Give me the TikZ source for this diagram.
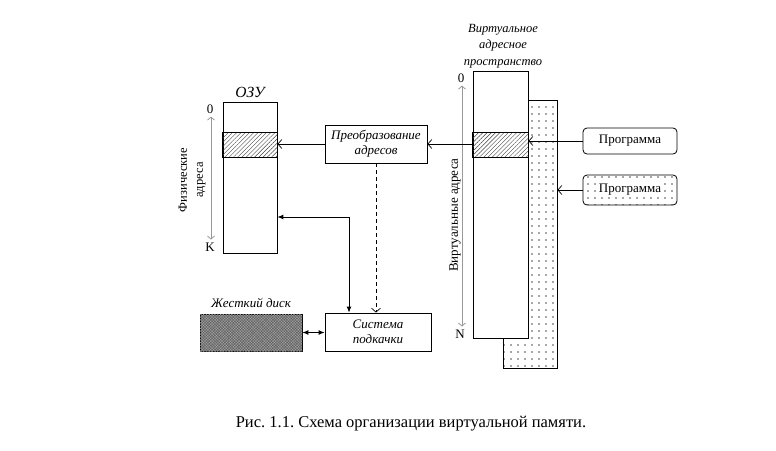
\documentclass[tikz,border=0pt]{standalone}
\usepackage{fontspec}
\setmainfont{Liberation Serif}
\usetikzlibrary{arrows.meta,patterns,patterns.meta,calc}
\frenchspacing
\begin{document}
\begin{tikzpicture}[x=1pt,y=-1pt,
  box/.style={draw, line width=0.8pt, inner sep=0pt, align=center, font=\itshape\fontsize{13}{15}\selectfont},
  openarr/.style={-{Straight Barb[length=4pt,width=9pt]}, line width=0.7pt},
  fillarr/.style={{Latex[length=6pt,width=5pt]}-{Latex[length=6pt,width=5pt]}, line width=0.9pt},
  axis/.style={{Straight Barb[length=3pt,width=7pt]}-{Straight Barb[length=3pt,width=7pt]}, draw=black!40, line width=0.8pt},
  lbl/.style={inner sep=0pt, font=\fontsize{13}{14}\selectfont},
  hatch/.style={draw, line width=0.8pt, pattern={Lines[angle=45,distance=3pt,line width=0.45pt]}, pattern color=black!75},
  dotfill/.style={pattern={Dots[distance=7pt,radius=0.8pt]}, pattern color=black!70}
]
\useasboundingbox (0,0) rectangle (776,450);

% ОЗУ
\node[box, minimum width=54pt, minimum height=151pt] (ram) at (250,177.5) {};
\draw[hatch] (ram.west |- 0,132) rectangle (ram.east |- 0,157);
\node[inner sep=0pt, font=\itshape\fontsize{15.5}{16}\selectfont] (ramlbl) at (250,92) {ОЗУ};
\node[lbl] (r0) at (210,109) {0};
\node[lbl] (rK) at (210,247) {K};
\draw[axis] ($(r0.south)+(1,3)$) -- ($(rK.north)+(1,-3)$);
\node[inner sep=0pt, rotate=90, align=center, font=\fontsize{12.5}{16}\selectfont] (physlbl) at (192,180) {Физические\\адреса};

% Преобразование адресов
\node[box, minimum width=102pt, minimum height=38pt] (conv) at (376,144) {Преобразование\\адресов};

% Система подкачки
\node[box, minimum width=106pt, minimum height=38pt] (swap) at (378,332) {Система\\подкачки};

% Жесткий диск
\node[draw, line width=0.8pt, minimum width=102pt, minimum height=37pt, inner sep=0pt, fill=black!62,
  postaction={pattern={Hatch[angle=45,distance=2pt,line width=0.3pt]}, pattern color=black!35}] (disk) at (251,332.5) {};
\node[inner sep=0pt, font=\itshape\fontsize{13}{14}\selectfont] (disklbl) at (251,303) {Жесткий диск};

% Virtual address space
\node[draw, line width=0.8pt, minimum width=54pt, minimum height=268pt, inner sep=0pt, dotfill] (vdot) at (530,234) {};
\node[box, fill=white, minimum width=55pt, minimum height=267pt] (virt) at (500.5,204.5) {};
\draw[hatch] (virt.west |- 0,132) rectangle (virt.east |- 0,157);
\node[inner sep=0pt, align=center, font=\itshape\fontsize{12.5}{16.5}\selectfont] (vlbl) at (503,46) {Виртуальное\\адресное\\пространство};
\node[lbl] (v0) at (461,78) {0};
\node[lbl] (vN) at (460,334) {N};
\draw[axis] ($(v0.south)+(1,3)$) -- ($(vN.north)+(2,-3)$);
\node[inner sep=0pt, rotate=90, font=\fontsize{13}{14}\selectfont] (vaxlbl) at (455,215) {Виртуальные адреса};

% Программы
\node[draw, line width=0.8pt, rounded corners=4pt, minimum width=94pt, minimum height=26pt, inner sep=0pt,
  font=\fontsize{13}{14}\selectfont] (prog1) at (630,141) {Программа};
\node[draw, line width=0.8pt, rounded corners=4pt, minimum width=94pt, minimum height=30pt, inner sep=0pt,
  dotfill] (prog2) at (630,190) {};
\node[fill=white, inner sep=1.5pt, font=\fontsize{13}{14}\selectfont] (prog2t) at (prog2.center) {Программа};

% Connectors
\draw[openarr] (conv.west) -- (ram.east |- conv.west);
\draw[openarr] (virt.west |- conv.east) -- (conv.east);
\draw[openarr] (prog1.west) -- (virt.east |- prog1.west);
\draw[openarr] (prog2.west) -- (vdot.east |- prog2.west);
\draw[openarr, dashed, dash pattern=on 4pt off 3pt] (conv.south) -- (conv.south |- swap.north);
\coordinate (k) at (349,217);
\draw[fillarr] (ram.east |- k) -- (k) -- (k |- swap.north);
\draw[fillarr] (disk.east) -- (swap.west |- disk.east);

% Caption
\node[inner sep=0pt, font=\fontsize{16.5}{18}\selectfont] (cap) at (411,424) {Рис. 1.1. Схема организации виртуальной памяти.};
\end{tikzpicture}
\end{document}
